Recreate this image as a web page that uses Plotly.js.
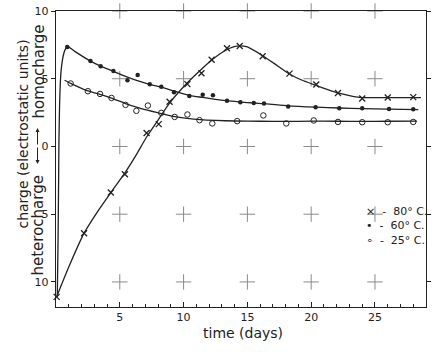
<!DOCTYPE html>
<html>
<head>
<meta charset="utf-8">
<script src="https://cdn.plot.ly/plotly-3.0.1.min.js"></script>
<style>html,body{margin:0;padding:0;background:#fff;}#chart{width:435px;height:352px;}</style>
</head>
<body>
<div id="chart"></div>
<script>
// measured points (time in days, charge in e.s.u.; negative = heterocharge)
const t80 = [0.05, 2.2, 4.3, 5.4, 7.1, 8.05, 8.9, 10.3, 11.4, 12.2, 13.4, 14.4, 16.2, 18.3, 20.4, 22.1, 24.0, 26.0, 28.0];
const q80 = [-11.1, -6.4, -3.4, -2.05, 1.0, 1.65, 3.3, 4.6, 5.4, 6.4, 7.25, 7.42, 6.66, 5.38, 4.57, 3.95, 3.54, 3.62, 3.64];

const t60 = [0.88, 2.7, 3.5, 4.5, 5.6, 6.4, 7.35, 8.25, 9.25, 10.45, 11.5, 12.3, 13.4, 14.45, 15.5, 16.3, 18.2, 20.35, 22.2, 24.0, 26.1, 28.0];
const q60 = [7.35, 6.3, 5.92, 5.58, 4.89, 5.28, 4.6, 4.4, 4.0, 3.73, 3.81, 3.78, 3.38, 3.27, 3.21, 3.17, 2.95, 2.9, 2.82, 2.82, 2.77, 2.75];

const t25 = [1.15, 2.5, 3.45, 4.35, 5.45, 6.3, 7.2, 8.25, 9.3, 10.3, 11.25, 12.25, 14.2, 16.25, 18.05, 20.2, 22.1, 24.0, 26.0, 28.0];
const q25 = [4.65, 4.08, 3.88, 3.58, 3.07, 2.63, 3.02, 2.48, 2.18, 2.36, 1.94, 1.7, 1.87, 2.29, 1.7, 1.92, 1.81, 1.79, 1.79, 1.81];

// hand-drawn fitted curves
const fitT80 = [0.05, 1, 2.2, 3.3, 4.3, 5.4, 6.3, 7.1, 8, 8.9, 10.3, 11.4, 12.3, 13.2, 13.9, 14.4, 15, 16.2, 17.3, 18.3, 19.4, 20.4, 21.3, 22.1, 23, 23.8, 24.5, 26, 28.6];
const fitQ80 = [-11.1, -8.9, -6.4, -4.75, -3.4, -1.95, -0.6, 0.7, 1.95, 3.2, 4.7, 5.7, 6.45, 7.05, 7.35, 7.43, 7.35, 6.7, 6.0, 5.35, 4.85, 4.5, 4.2, 3.95, 3.75, 3.62, 3.6, 3.61, 3.61];

const fitT60 = [0.1, 0.16, 0.2, 0.23, 0.28, 0.33, 0.4, 0.5, 0.62, 0.75, 0.9, 1.5, 2.7, 3.5, 4.5, 5.6, 6.5, 7.4, 8.3, 9.3, 10.5, 11.5, 12.5, 13.5, 14.5, 15.5, 16.5, 18.2, 20.4, 22.2, 24, 26, 28.4];
const fitQ60 = [-11.1, -7, -3, 0.3, 3.0, 4.5, 5.6, 6.35, 6.9, 7.2, 7.38, 7.0, 6.3, 5.93, 5.55, 5.12, 4.82, 4.57, 4.36, 4.08, 3.76, 3.62, 3.48, 3.37, 3.28, 3.21, 3.15, 3.0, 2.9, 2.84, 2.79, 2.75, 2.72];

const fitT25 = [0.67, 1.15, 2.5, 3.45, 4.35, 5.45, 6.5, 7.5, 8.25, 9.3, 10.3, 11.3, 12.5, 14, 16, 18, 20, 22, 24, 26, 28.3];
const fitQ25 = [4.89, 4.66, 4.1, 3.85, 3.57, 3.17, 2.85, 2.6, 2.43, 2.2, 2.07, 1.98, 1.92, 1.88, 1.86, 1.85, 1.87, 1.86, 1.85, 1.86, 1.87];

// axes
const xTicks = [5, 10, 15, 20, 25];
const yTicks = [10, 5, 0, -5, -10];
const yTickText = ['10', '5', '0', '5', '10'];
const legendLabels = ['×  -  80° C.', '•  -  60° C.', '∘  -  25° C.'];

// "+" grid marks at every major tick crossing
const gx = [], gy = [];
xTicks.forEach(x => yTicks.forEach(y => { gx.push(x); gy.push(y); }));

const ink = '#222';
const font = 'DejaVu Sans, sans-serif';

const traces = [
  {x: gx, y: gy, mode: 'markers', marker: {symbol: 'cross-thin', size: 11, line: {color: '#8a8a8a', width: 1}}, cliponaxis: false, hoverinfo: 'skip'},
  {x: fitT80, y: fitQ80, mode: 'lines', line: {color: ink, width: 1.3, shape: 'spline', smoothing: 0.6}},
  {x: fitT60, y: fitQ60, mode: 'lines', line: {color: ink, width: 1.3, shape: 'spline', smoothing: 0.6}},
  {x: fitT25, y: fitQ25, mode: 'lines', line: {color: ink, width: 1.3, shape: 'spline', smoothing: 0.6}},
  {x: t80, y: q80, mode: 'markers', marker: {symbol: 'x-thin', size: 6, line: {color: ink, width: 1.3}}, cliponaxis: false},
  {x: t60, y: q60, mode: 'markers', marker: {symbol: 'circle', size: 4.5, color: ink}},
  {x: t25, y: q25, mode: 'markers', marker: {symbol: 'circle-open', size: 5.5, color: ink, line: {width: 1}}}
];

const px = v => (v - 55.5) / 370.5;   // pixel -> paper x
const py = v => (307 - v) / 296;      // pixel -> paper y

function label(text, x, y, size, angle, xa) {
  return {xref: 'paper', yref: 'paper', x: px(x), y: py(y), text: text, textangle: angle || 0,
          xanchor: xa || 'center', yanchor: 'middle', showarrow: false,
          font: {family: font, size: size, color: ink}};
}

const annotations = [
  label('charge (electrostatic units)', 22, 134, 14, -90),
  label('homocharge', 38, 72, 15, -90),
  label('heterocharge', 37, 226, 15, -90),
  {xref: 'paper', yref: 'paper', x: px(37), y: py(128), ax: 0, ay: 18, text: '', showarrow: true, arrowhead: 2, arrowsize: 0.8, arrowwidth: 1, arrowcolor: ink},
  {xref: 'paper', yref: 'paper', x: px(37), y: py(164), ax: 0, ay: -18, text: '', showarrow: true, arrowhead: 2, arrowsize: 0.8, arrowwidth: 1, arrowcolor: ink},
  label('time (days)', 243, 333, 14, 0),
  label(legendLabels[0], 364, 211, 11, 0, 'left'),
  label(legendLabels[1], 364, 225, 11, 0, 'left'),
  label(legendLabels[2], 364, 240, 11, 0, 'left')
];

const layout = {
  width: 435, height: 352,
  margin: {l: 55.5, r: 9, t: 11, b: 45},
  paper_bgcolor: '#fff', plot_bgcolor: '#fff',
  showlegend: false,
  font: {family: font, size: 11, color: ink},
  xaxis: {
    range: [0, 29], tickvals: xTicks, ticks: 'inside', ticklen: 5, tickcolor: ink,
    minor: {dtick: 1, tick0: 0, ticks: 'inside', ticklen: 3, tickcolor: ink},
    showline: true, linecolor: ink, linewidth: 1.2, mirror: true,
    showgrid: false, zeroline: false, tickfont: {size: 11}
  },
  yaxis: {
    range: [-11.85, 10], tickvals: yTicks, ticktext: yTickText, ticks: 'outside', ticklen: 4, tickcolor: ink,
    showline: true, linecolor: ink, linewidth: 1.2, mirror: 'ticks',
    showgrid: false, zeroline: false, tickfont: {size: 11}
  },
  annotations: annotations
};

Plotly.newPlot('chart', traces, layout, {displayModeBar: false, staticPlot: true});
</script>
</body>
</html>
